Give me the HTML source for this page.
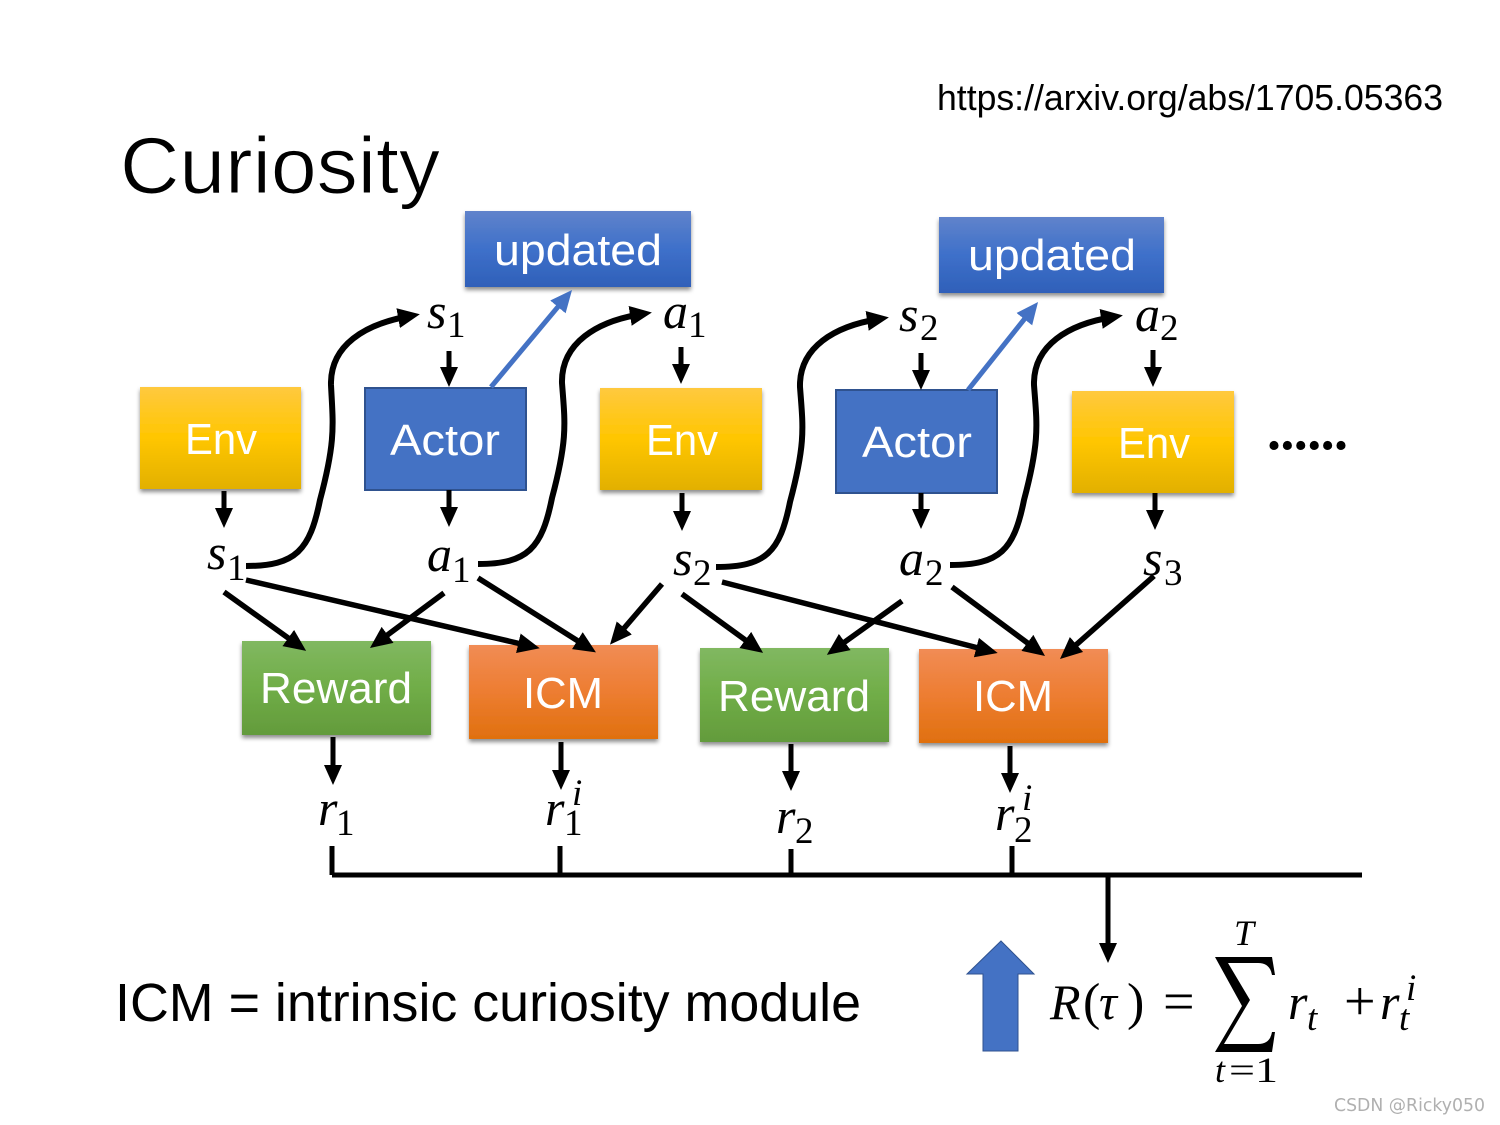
<!DOCTYPE html>
<html><head><meta charset="utf-8"><style>
html,body{margin:0;padding:0;background:#fff}
svg{display:block}
.b{font-family:"Liberation Sans",sans-serif;font-size:44px;fill:#fff;text-anchor:middle}
.m{font-family:"Liberation Serif",serif;font-style:italic;font-size:50px;fill:#000}
.s{font-family:"Liberation Serif",serif;font-size:37px;fill:#000}
.si{font-family:"Liberation Serif",serif;font-style:italic;font-size:37px;fill:#000}
.r{font-family:"Liberation Serif",serif;font-size:52px;fill:#000}
.k{fill:none;stroke:#000;stroke-width:5.5;marker-end:url(#h)}
.c{fill:none;stroke:#000;stroke-width:6;marker-end:url(#h)}
.d{fill:none;stroke:#000;stroke-width:5;marker-end:url(#d)}
.u{fill:none;stroke:#4472c4;stroke-width:5;marker-end:url(#u)}
</style></head><body>
<svg xmlns="http://www.w3.org/2000/svg" width="1500" height="1125" viewBox="0 0 1500 1125">
<defs>
<marker id="h" markerUnits="userSpaceOnUse" markerWidth="24" markerHeight="22" refX="12" refY="10" orient="auto"><path d="M0,0 L22,10 L0,20 Z" fill="#000"/></marker>
<marker id="d" markerUnits="userSpaceOnUse" markerWidth="22" markerHeight="20" refX="10" refY="9" orient="auto"><path d="M0,0 L20,9 L0,18 Z" fill="#000"/></marker>
<marker id="u" markerUnits="userSpaceOnUse" markerWidth="24" markerHeight="22" refX="12" refY="10" orient="auto"><path d="M0,0 L22,10 L0,20 Z" fill="#4472c4"/></marker>
<linearGradient id="gy" x1="0" y1="0" x2="0" y2="1"><stop offset="0" stop-color="#ffc93f"/><stop offset=".5" stop-color="#ffc600"/><stop offset="1" stop-color="#e2b000"/></linearGradient>
<linearGradient id="gb" x1="0" y1="0" x2="0" y2="1"><stop offset="0" stop-color="#6083cb"/><stop offset=".5" stop-color="#3e70ca"/><stop offset="1" stop-color="#2f60b9"/></linearGradient>
<linearGradient id="gg" x1="0" y1="0" x2="0" y2="1"><stop offset="0" stop-color="#81b861"/><stop offset=".5" stop-color="#70ad47"/><stop offset="1" stop-color="#639b3c"/></linearGradient>
<linearGradient id="go" x1="0" y1="0" x2="0" y2="1"><stop offset="0" stop-color="#f18c55"/><stop offset=".5" stop-color="#ed7d31"/><stop offset="1" stop-color="#e0700f"/></linearGradient>
<filter id="sh" x="-5%" y="-5%" width="110%" height="115%"><feDropShadow dx="0" dy="3" stdDeviation="2" flood-color="#000" flood-opacity=".45"/></filter>
</defs>

<text x="937" y="110" font-family="Liberation Sans,sans-serif" font-size="36" textLength="506" lengthAdjust="spacingAndGlyphs">https://arxiv.org/abs/1705.05363</text>
<text x="120" y="193" font-family="Liberation Sans,sans-serif" font-size="80" textLength="320" lengthAdjust="spacingAndGlyphs" stroke="#fff" stroke-width="1">Curiosity</text>

<!-- boxes -->
<g filter="url(#sh)">
<rect x="140" y="387" width="161" height="102" fill="url(#gy)"/>
<rect x="600" y="388" width="162" height="102" fill="url(#gy)"/>
<rect x="1072" y="391" width="162" height="102" fill="url(#gy)"/>
<rect x="465" y="211" width="226" height="76" fill="url(#gb)"/>
<rect x="939" y="217" width="225" height="76" fill="url(#gb)"/>
<rect x="242" y="641" width="189" height="94" fill="url(#gg)"/>
<rect x="700" y="648" width="189" height="94" fill="url(#gg)"/>
<rect x="469" y="645" width="189" height="94" fill="url(#go)"/>
<rect x="919" y="649" width="189" height="94" fill="url(#go)"/>
</g>
<rect x="365" y="388" width="161" height="102" fill="#4472c4" stroke="#2f528f" stroke-width="2"/>
<rect x="836" y="390" width="161" height="103" fill="#4472c4" stroke="#2f528f" stroke-width="2"/>

<text class="b" x="221" y="454" textLength="72" lengthAdjust="spacingAndGlyphs">Env</text>
<text class="b" x="445" y="455" textLength="110" lengthAdjust="spacingAndGlyphs">Actor</text>
<text class="b" x="682" y="455" textLength="72" lengthAdjust="spacingAndGlyphs">Env</text>
<text class="b" x="917" y="457" textLength="110" lengthAdjust="spacingAndGlyphs">Actor</text>
<text class="b" x="1154" y="458" textLength="72" lengthAdjust="spacingAndGlyphs">Env</text>
<text class="b" x="578" y="265" textLength="168" lengthAdjust="spacingAndGlyphs">updated</text>
<text class="b" x="1052" y="270" textLength="168" lengthAdjust="spacingAndGlyphs">updated</text>
<text class="b" x="336" y="703" textLength="152" lengthAdjust="spacingAndGlyphs">Reward</text>
<text class="b" x="794" y="711" textLength="152" lengthAdjust="spacingAndGlyphs">Reward</text>
<text class="b" x="563" y="708" textLength="80" lengthAdjust="spacingAndGlyphs">ICM</text>
<text class="b" x="1013" y="711" textLength="80" lengthAdjust="spacingAndGlyphs">ICM</text>
<text x="1267" y="449" font-family="Liberation Serif,serif" font-weight="bold" font-size="56" textLength="81" lengthAdjust="spacing">......</text>

<!-- straight down arrows -->
<path class="d" d="M224,491V518"/>
<path class="d" d="M449,351V377"/><path class="d" d="M449,490V517"/><path class="d" d="M681,347V374"/>
<path class="d" d="M682,493V521"/><path class="d" d="M921,353V380"/><path class="d" d="M921,493V519"/>
<path class="d" d="M1153,350V377"/><path class="d" d="M1155,493V520"/>
<path class="d" d="M333,737V775"/><path class="d" d="M561,742V780"/><path class="d" d="M791,744V781"/>
<path class="d" d="M1010,746V783"/><path class="d" d="M1108,876V953"/>

<!-- curves -->
<path class="c" d="M246,566 C296,566 310,550 320,500 C336,440 333,425 331,385 C330,345 365,324 410,316"/>
<path class="c" d="M478,564 C528,564 542,548 552,498 C568,438 565,423 562,383 C561,343 597,321 642,314"/>
<path class="c" d="M716,567 C766,567 780,552 790,502 C806,442 803,427 800,387 C799,347 835,326 879,319"/>
<path class="c" d="M950,565 C1000,565 1014,550 1024,500 C1040,440 1037,425 1034,385 C1033,345 1069,324 1113,317"/>

<!-- straight arrows -->
<path class="k" d="M224,592L298,645"/><path class="k" d="M444,593L378,642"/>
<path class="k" d="M246,580L530,646"/><path class="k" d="M478,578L587.5,647"/>
<path class="k" d="M662,584L616.5,637"/><path class="k" d="M682,594L755,647"/>
<path class="k" d="M902,601L835,649"/><path class="k" d="M722,582L988,650.5"/>
<path class="k" d="M952,587L1037,650"/><path class="k" d="M1154,576L1067.5,652.4"/>
<path class="u" d="M491,387L565.6,297.7"/><path class="u" d="M968,390L1031.8,309.8"/>

<!-- math labels -->
<text class="m" x="427" y="328">s</text><text class="s" x="447" y="337">1</text>
<text class="m" x="663" y="328">a</text><text class="s" x="688" y="337">1</text>
<text class="m" x="899" y="331">s</text><text class="s" x="920" y="340">2</text>
<text class="m" x="1135" y="331">a</text><text class="s" x="1160" y="340">2</text>
<text class="m" x="207" y="569">s</text><text class="s" x="227" y="580">1</text>
<text class="m" x="427" y="571">a</text><text class="s" x="452" y="582">1</text>
<text class="m" x="673" y="575">s</text><text class="s" x="693" y="585">2</text>
<text class="m" x="899" y="575">a</text><text class="s" x="925" y="585">2</text>
<text class="m" x="1143" y="575">s</text><text class="s" x="1164" y="585">3</text>

<text class="m" x="318" y="825">r</text><text class="s" x="336" y="835">1</text>
<text class="m" x="545" y="825">r</text><text class="s" x="564" y="835">1</text><text class="si" x="572" y="805">i</text>
<text class="m" x="776" y="833">r</text><text class="s" x="795" y="843">2</text>
<text class="m" x="995" y="830">r</text><text class="s" x="1014" y="842">2</text><text class="si" x="1022" y="810">i</text>

<!-- bottom bus -->
<path d="M332,875H1362M332,846V875M560,846V875M791,849V875M1012,846V875" fill="none" stroke="#000" stroke-width="5"/>

<text x="115" y="1021" font-family="Liberation Sans,sans-serif" font-size="54" textLength="746" lengthAdjust="spacingAndGlyphs">ICM = intrinsic curiosity module</text>

<!-- up arrow -->
<path d="M1001,941 L1034,974 L1018,974 L1018,1051 L983,1051 L983,974 L967,974 Z" fill="#4472c4" stroke="#2f528f" stroke-width="1"/>

<!-- formula -->
<text class="m" x="1050" y="1019">R</text>
<text class="r" x="1083" y="1019">(</text>
<text class="m" x="1099" y="1019">τ</text>
<text class="r" x="1127" y="1019">)</text>
<text x="1163" y="1020" font-family="Liberation Serif,serif" font-size="56">=</text>
<path d="M1215,957 H1272 L1275,975 H1272 Q1270,963 1258,963 H1228 L1250,1000 L1224,1044 H1258 Q1270,1044 1272,1032 H1275 L1272,1052 H1215 L1242,1006 Z" fill="#000"/>
<text class="m" x="1234" y="945" style="font-size:36px">T</text>
<text class="m" x="1215" y="1082" style="font-size:36px">t</text>
<text x="1229" y="1082" font-family="Liberation Serif,serif" font-size="36" textLength="49" lengthAdjust="spacingAndGlyphs">=1</text>
<text class="m" x="1288" y="1019">r</text><text class="si" x="1307" y="1030">t</text>
<text x="1344" y="1020" font-family="Liberation Serif,serif" font-size="56">+</text>
<text class="m" x="1380" y="1019">r</text><text class="si" x="1399" y="1030">t</text><text class="si" x="1406" y="1000">i</text>

<text x="1334" y="1111" font-family="DejaVu Sans,sans-serif" font-size="18" fill="#b0b0b0" textLength="151" lengthAdjust="spacingAndGlyphs">CSDN @Ricky050</text>
</svg>
</body></html>
